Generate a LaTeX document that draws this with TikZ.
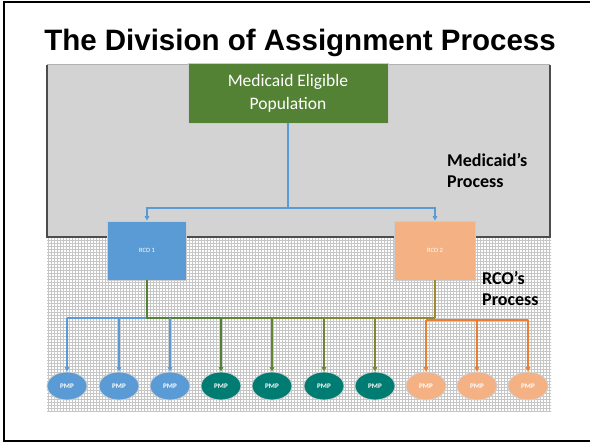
\documentclass[tikz,border=0pt]{standalone}
\usepackage{fontspec}
\setmainfont{Carlito}
\newfontfamily\arialfont{Liberation Sans}
\usetikzlibrary{patterns,arrows.meta,shapes.geometric}
\definecolor{mgreen}{HTML}{548235}
\definecolor{mblue}{HTML}{5B9BD5}
\definecolor{mpeach}{HTML}{F4B183}
\definecolor{mteal}{HTML}{007C72}
\definecolor{morange}{HTML}{ED7D31}
\definecolor{molive}{HTML}{A08A30}
\definecolor{mgray}{HTML}{D3D3D3}
\tikzset{
  box/.style={draw=gray!40, line width=0.8pt, inner sep=0pt, text=white},
  pmp/.style={ellipse, draw=gray!35, line width=0.8pt, minimum width=40pt, minimum height=28pt, inner sep=0pt, text=white, font=\fontsize{7}{8}\selectfont\bfseries},
  conn/.style={line width=1.4pt},
  tip/.style={-{Triangle[length=4.5pt,width=4.5pt]}},
  lbl/.style={font=\fontsize{18}{21}\selectfont\bfseries, align=left, inner sep=0pt, anchor=north west}
}
\begin{document}
\begin{tikzpicture}[x=1pt,y=-1pt]
\useasboundingbox (0,0) rectangle (590,444);
\fill[white] (0,0) rectangle (590,444);
% frame
\draw[line width=2pt] (4,2) rectangle (600,441);
% title
\node[font=\arialfont\bfseries\fontsize{29.5}{34}\selectfont, anchor=base] (title) at (300,51) {The Division of Assignment Process};
% pattern area
\fill[white] (47,238) rectangle (551,411);
\fill[pattern=grid, pattern color=gray!45] (47,238) rectangle (551,411);
% gray area
\fill[mgray] (47,65) rectangle (550,237);
\draw[gray!60, line width=1pt] (47,65) -- (550,65);
\draw[black!70, line width=1.2pt] (47,65) -- (47,237) -- (550,237) -- (550,65);
% nodes
\node[box, fill=mgreen, minimum width=200pt, minimum height=60pt, align=center, font=\fontsize{17.5}{23}\selectfont] (pop) at (288,93) {Medicaid Eligible\\Population};
\node[box, fill=mblue, minimum width=79pt, minimum height=59pt, font=\fontsize{6.5}{7}\selectfont] (rco1) at (147,250.5) {RCO 1};
\node[box, fill=mpeach, minimum width=81pt, minimum height=59pt, font=\fontsize{6.5}{7}\selectfont] (rco2) at (435,250.5) {RCO 2};
\node[lbl] (mp) at (447,153) {Medicaid’s\\Process};
\node[lbl] (rp) at (482,271) {RCO’s\\Process};
% PMPs
\node[pmp, fill=mblue] (p1) at (67,386) {PMP};
\node[pmp, fill=mblue] (p2) at (119,386) {PMP};
\node[pmp, fill=mblue] (p3) at (170,386) {PMP};
\node[pmp, fill=mteal] (p4) at (221,386) {PMP};
\node[pmp, fill=mteal] (p5) at (272,386) {PMP};
\node[pmp, fill=mteal] (p6) at (324,386) {PMP};
\node[pmp, fill=mteal] (p7) at (375,386) {PMP};
\node[pmp, fill=mpeach] (p8) at (426,386) {PMP};
\node[pmp, fill=mpeach] (p9) at (477,386) {PMP};
\node[pmp, fill=mpeach] (p10) at (528,386) {PMP};
% Medicaid split
\coordinate (j) at (288,208);
\draw[conn, mblue] (pop.south) -- (j);
\draw[conn, mblue, tip] (j) -| (rco1.north);
\draw[conn, mblue, tip] (j) -| (rco2.north);
% buses
\coordinate (bus) at (0,318);
\coordinate (obus) at (0,320);
\draw[conn, mblue] (p1.north |- bus) -- (rco1.south |- bus);
\draw[conn, mgreen] (rco1.south) -- (rco1.south |- bus) -- (p4.north |- bus);
\draw[conn, mgreen!80!molive] (p4.north |- bus) -- (p5.north |- bus);
\draw[conn, mgreen!60!molive] (p5.north |- bus) -- (p6.north |- bus);
\draw[conn, mgreen!40!molive] (p6.north |- bus) -- (p7.north |- bus);
\draw[conn, mgreen!20!molive] (p7.north |- bus) -- (rco2.south |- bus);
\draw[conn, molive] (rco2.south) -- (rco2.south |- bus);
\draw[conn, morange] (p8.north |- obus) -- (p10.north |- obus);
% drops
\draw[conn, mblue, tip] (p1.north |- bus) -- (p1.north);
\draw[conn, mblue, tip] (p2.north |- bus) -- (p2.north);
\draw[conn, mblue, tip] (p3.north |- bus) -- (p3.north);
\draw[conn, mgreen, tip] (p4.north |- bus) -- (p4.north);
\draw[conn, mgreen!80!molive, tip] (p5.north |- bus) -- (p5.north);
\draw[conn, mgreen!60!molive, tip] (p6.north |- bus) -- (p6.north);
\draw[conn, mgreen!45!molive, tip] (p7.north |- bus) -- (p7.north);
\draw[conn, morange, tip] (p8.north |- obus) -- (p8.north);
\draw[conn, morange, tip] (p9.north |- obus) -- (p9.north);
\draw[conn, morange, tip] (p10.north |- obus) -- (p10.north);
\end{tikzpicture}
\end{document}
